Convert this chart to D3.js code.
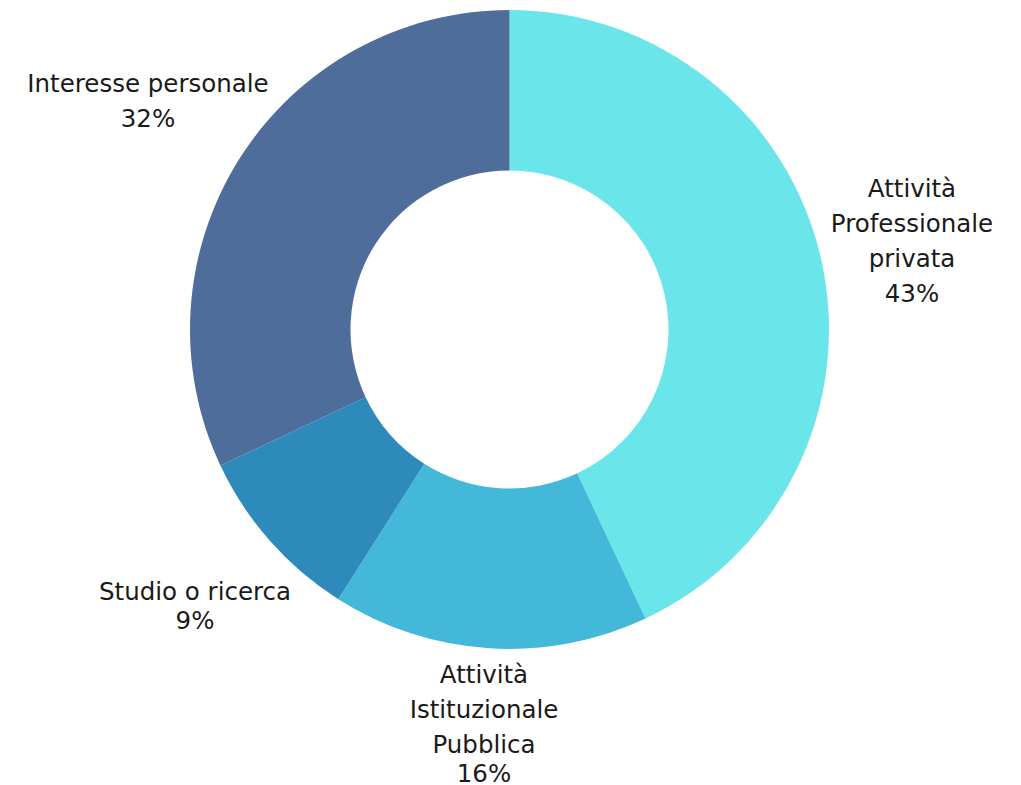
<!DOCTYPE html>
<html>
<head>
<meta charset="utf-8">
<script src="https://cdn.jsdelivr.net/npm/d3@7"></script>
<style>
  body { margin: 0; background: #fff; }
  text { font-family: "DejaVu Sans", sans-serif; fill: #1a1a1a; }
</style>
</head>
<body>
<div id="chart"></div>
<script>
// data
const categories = ["Attività Professionale privata", "Attività Istituzionale Pubblica", "Studio o ricerca", "Interesse personale"];
const labelLines = [["Attività", "Professionale", "privata"], ["Attività", "Istituzionale", "Pubblica"], ["Studio o ricerca"], ["Interesse personale"]];
const values = [43, 16, 9, 32];
const colors = ["#6ae6ea", "#43b8d8", "#2e8aba", "#4e6d9a"];

// label layout: first baseline per slice, and gap before the percent line
const labelLayout = [
    { x: 912, y: 197, gap: 35 },
    { x: 484, y: 683, gap: 29 },
    { x: 195, y: 600, gap: 29 },
    { x: 148, y: 92, gap: 35 }
];

const width = 1021, height = 785;
const cx = 509.5, cy = 329.5;
const outerR = 319.5, innerR = 159;

const svg = d3.select("#chart").append("svg")
    .attr("width", width)
    .attr("height", height);

const g = svg.append("g").attr("transform", `translate(${cx},${cy})`);

const pie = d3.pie().sort(null).value(d => d.value);
const arc = d3.arc().innerRadius(innerR).outerRadius(outerR);

const data = categories.map((c, i) => ({ name: c, value: values[i], color: colors[i], lines: labelLines[i], layout: labelLayout[i] }));

g.selectAll(".slice")
    .data(pie(data))
    .enter()
    .append("path")
    .attr("class", "slice")
    .attr("d", arc)
    .attr("fill", d => d.data.color);

// labels
const lineH = 35;
const labels = svg.selectAll(".label")
    .data(data)
    .enter()
    .append("text")
    .attr("class", "label")
    .attr("text-anchor", "middle")
    .style("font-size", "24.5px");

labels.each(function (d) {
    let t = d3.select(this);
    d.lines.forEach((line, i) => {
        t.append("tspan")
            .attr("x", d.layout.x)
            .attr("y", d.layout.y + i * lineH)
            .text(line);
    });
    t.append("tspan")
        .attr("x", d.layout.x)
        .attr("y", d.layout.y + (d.lines.length - 1) * lineH + d.layout.gap)
        .text(d.value + "%");
});
</script>
</body>
</html>
